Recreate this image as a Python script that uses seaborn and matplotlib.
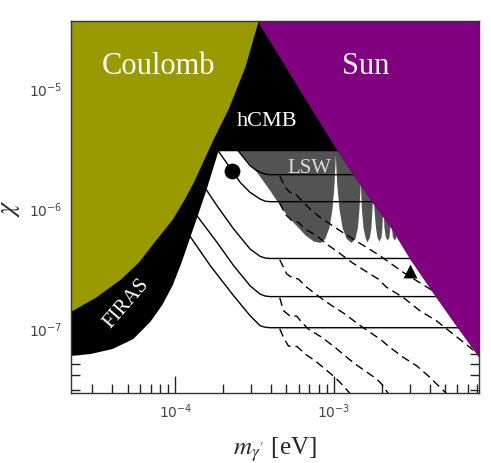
import numpy as np
import pandas as pd
import seaborn as sns
import matplotlib.pyplot as plt
from matplotlib.ticker import NullFormatter

# axis range (eV, kinetic mixing chi)
x_range = [2.2e-5, 8.2e-3]
y_range = [2.85e-8, 3.63e-5]

# Coulomb bound (olive): boundary
coul_m = [3.35e-4, 2.75e-4, 2.15e-4, 1.73e-4, 1.30e-4, 1.139e-4, 9.57e-5, 7.59e-5, 5.85e-5, 4.51e-5, 3.14e-5, 2.0e-5]
coul_chi = [3.8e-5, 1.53e-5, 6.72e-6, 3.77e-6, 1.65e-6, 1.19e-6, 8.09e-7, 5.51e-7, 3.54e-7, 2.55e-7, 1.80e-7, 1.28e-7]

# FIRAS + hCMB (black): lower boundary
black_m = [2.0e-5, 2.92e-5, 4.02e-5, 5.44e-5, 6.96e-5, 8.28e-5, 9.64e-5, 1.099e-4, 1.252e-4, 1.385e-4, 1.567e-4, 1.87e-4, 1e-2]
black_chi = [5.75e-8, 6.03e-8, 6.64e-8, 8.05e-8, 1.12e-7, 1.55e-7, 2.27e-7, 3.55e-7, 5.87e-7, 8.63e-7, 1.40e-6, 2.98e-6, 2.98e-6]

# Sun bound (purple): left boundary
sun_m = [3.23e-4, 9.44e-4, 1.315e-3, 1.726e-3, 2.31e-3, 3.01e-3, 4.43e-3, 6.03e-3, 8.17e-3, 9.57e-3]
sun_chi = [3.8e-5, 3.77e-6, 1.90e-6, 1.13e-6, 6.68e-7, 3.75e-7, 1.77e-7, 9.94e-8, 5.69e-8, 4.19e-8]

# LSW exclusion (grey), oscillating lower edge
lsw_top = 3.1e-6
lsw_m = [2.50e-4, 2.75e-4, 3.26e-4, 3.96e-4, 4.57e-4, 5.16e-4, 5.83e-4, 6.57e-4, 7.41e-4, 8.17e-4,
         8.77e-4, 9.30e-4, 9.71e-4, 1.00e-3, 1.019e-3, 1.040e-3, 1.075e-3, 1.123e-3, 1.19e-3, 1.28e-3,
         1.356e-3, 1.406e-3, 1.436e-3, 1.463e-3, 1.489e-3, 1.522e-3, 1.567e-3, 1.614e-3, 1.672e-3, 1.709e-3,
         1.734e-3, 1.759e-3, 1.785e-3, 1.824e-3, 1.864e-3, 1.919e-3, 1.976e-3, 2.004e-3, 2.033e-3, 2.063e-3,
         2.107e-3, 2.168e-3, 2.218e-3, 2.25e-3, 2.27e-3, 2.30e-3, 2.333e-3, 2.40e-3, 2.455e-3, 2.486e-3,
         2.528e-3, 2.60e-3, 1e-2]
lsw_chi = [2.98e-6, 2.57e-6, 1.99e-6, 1.39e-6, 1.045e-6, 8.36e-7, 7.08e-7, 5.95e-7, 5.30e-7, 5.15e-7,
           5.61e-7, 6.94e-7, 9.81e-7, 1.59e-6, 2.77e-6, 1.59e-6, 9.81e-7, 6.94e-7, 5.61e-7, 5.15e-7,
           5.61e-7, 6.94e-7, 9.81e-7, 1.65e-6, 9.81e-7, 6.94e-7, 5.73e-7, 5.20e-7, 5.73e-7, 6.94e-7,
           9.81e-7, 1.44e-6, 9.81e-7, 6.94e-7, 5.73e-7, 5.30e-7, 5.73e-7, 6.94e-7, 1.08e-6, 6.94e-7,
           5.73e-7, 5.40e-7, 5.73e-7, 6.94e-7, 8.91e-7, 6.94e-7, 5.73e-7, 5.40e-7, 5.73e-7, 7.79e-7,
           5.73e-7, 5.40e-7, 5.40e-7]

# solid sensitivity curves
l1_m = [2.33e-4, 2.50e-4, 2.96e-4, 3.18e-4, 3.42e-4, 3.68e-4, 3.96e-4, 1e-2]
l1_chi = [3.34e-6, 2.98e-6, 2.26e-6, 2.10e-6, 1.99e-6, 1.92e-6, 1.90e-6, 1.90e-6]
l2_m = [1.75e-4, 1.87e-4, 2.28e-4, 2.56e-4, 2.96e-4, 3.42e-4, 3.68e-4, 3.96e-4, 1e-2]
l2_chi = [3.39e-6, 2.98e-6, 2.05e-6, 1.64e-6, 1.35e-6, 1.19e-6, 1.14e-6, 1.13e-6, 1.13e-6]
l3_m = [1.45e-4, 1.58e-4, 1.83e-4, 2.33e-4, 2.96e-4, 3.42e-4, 3.68e-4, 3.96e-4, 1e-2]
l3_chi = [1.66e-6, 1.40e-6, 1.045e-6, 6.68e-7, 4.54e-7, 3.95e-7, 3.82e-7, 3.79e-7, 3.79e-7]
l4_m = [1.25e-4, 1.368e-4, 1.83e-4, 2.33e-4, 2.96e-4, 3.42e-4, 3.68e-4, 3.96e-4, 1e-2]
l4_chi = [1.01e-6, 8.63e-7, 5.17e-7, 3.30e-7, 2.24e-7, 1.91e-7, 1.84e-7, 1.82e-7, 1.82e-7]
l5_m = [1.12e-4, 1.23e-4, 1.66e-4, 2.33e-4, 2.96e-4, 3.42e-4, 3.68e-4, 3.96e-4, 1e-2]
l5_chi = [7.03e-7, 5.87e-7, 3.30e-7, 1.85e-7, 1.26e-7, 1.04e-7, 1.01e-7, 1.0e-7, 1.0e-7]

# dashed curves
d0_m = [4.55e-4, 4.92e-4, 5.29e-4, 5.69e-4, 6.11e-4, 7.24e-4, 8.17e-4, 9.44e-4, 1.091e-3, 1.422e-3, 1.946e-3, 2.73e-3, 4.02e-3, 4.76e-3, 6.20e-3]
d0_chi = [1.86e-6, 1.49e-6, 1.35e-6, 1.33e-6, 1.19e-6, 9.49e-7, 8.36e-7, 7.35e-7, 6.46e-7, 5.17e-7, 4.00e-7, 2.90e-7, 2.11e-7, 1.79e-7, 1.38e-7]
d1_m = [4.55e-4, 4.92e-4, 5.42e-4, 5.96e-4, 6.57e-4, 7.78e-4, 8.99e-4, 1.064e-3, 1.292e-3, 1.567e-3, 1.90e-3, 2.14e-3, 2.73e-3, 3.47e-3, 4.43e-3, 5.63e-3, 7.17e-3, 9.0e-3]
d1_chi = [1.10e-6, 8.91e-7, 7.83e-7, 7.60e-7, 6.68e-7, 5.87e-7, 5.00e-7, 4.27e-7, 3.52e-7, 2.99e-7, 2.55e-7, 2.18e-7, 1.79e-7, 1.39e-7, 1.14e-7, 8.86e-8, 6.86e-8, 5.3e-8]
d2_m = [4.55e-4, 5.04e-4, 5.42e-4, 5.96e-4, 6.73e-4, 8.17e-4, 9.68e-4, 1.173e-3, 1.422e-3, 1.684e-3, 1.946e-3, 2.25e-3, 2.73e-3, 3.31e-3, 4.02e-3, 4.32e-3, 5.3e-3]
d2_chi = [3.70e-7, 2.81e-7, 2.63e-7, 2.55e-7, 2.18e-7, 1.79e-7, 1.53e-7, 1.30e-7, 1.07e-7, 9.16e-8, 8.05e-8, 6.86e-8, 5.66e-8, 4.82e-8, 3.85e-8, 3.50e-8, 2.7e-8]
d3_m = [4.55e-4, 4.80e-4, 5.29e-4, 5.83e-4, 6.26e-4, 6.89e-4, 8.37e-4, 1.014e-3, 1.173e-3, 1.356e-3, 1.567e-3, 1.856e-3, 1.995e-3, 2.25e-3]
d3_chi = [1.78e-7, 1.39e-7, 1.25e-7, 1.25e-7, 1.11e-7, 9.75e-8, 8.32e-8, 6.86e-8, 5.83e-8, 4.98e-8, 4.37e-8, 3.73e-8, 3.39e-8, 2.7e-8]
d4_m = [4.55e-4, 4.80e-4, 5.16e-4, 5.85e-4, 6.57e-4, 7.60e-4, 8.77e-4, 1.014e-3, 1.143e-3, 1.33e-3]
d4_chi = [9.8e-8, 8.32e-8, 7.03e-8, 6.97e-8, 6.03e-8, 5.30e-8, 4.52e-8, 3.85e-8, 3.28e-8, 2.6e-8]

# benchmark points
dot_m, dot_chi = [2.28e-4], [2.05e-6]
tri_m, tri_chi = [3.0e-3], [2.99e-7]

OLIVE = "#999900"
PURPLE = "#800080"
GREY = "#535353"

sns.set_style("ticks")
plt.rcParams['font.family'] = ['DejaVu Sans']
serif = ['Liberation Serif', 'DejaVu Serif']

fig = plt.figure(figsize=(4.91, 4.64), dpi=100)
ax = fig.add_axes([0.1446, 0.1509, 0.831, 0.801])
ax.set_xscale('log')
ax.set_yscale('log')

# grey LSW region below everything else
ax.fill_between(lsw_m, lsw_chi, lsw_top, color=GREY, lw=0, zorder=1.0)

solid = [(l1_m, l1_chi), (l2_m, l2_chi), (l3_m, l3_chi), (l4_m, l4_chi), (l5_m, l5_chi)]
for m, c in solid:
    sns.lineplot(x=m, y=c, ax=ax, color='black', lw=1.0, sort=False, estimator=None, zorder=1.2)

dashed = [(d0_m, d0_chi), (d1_m, d1_chi), (d2_m, d2_chi), (d3_m, d3_chi), (d4_m, d4_chi)]
for m, c in dashed:
    sns.lineplot(x=m, y=c, ax=ax, color='black', lw=1.0, sort=False, estimator=None,
                 linestyle=(0, (6, 3.5)), zorder=1.2)

# excluded regions on top of the curves
ax.fill_between(black_m, black_chi, 1e-3, color='black', lw=0, zorder=1.5)
ax.fill_betweenx(coul_chi, 1e-6, coul_m, color=OLIVE, lw=0, zorder=1.6)
ax.fill_betweenx(sun_chi, sun_m, 1.0, color=PURPLE, lw=0, zorder=1.7)

sns.scatterplot(x=dot_m, y=dot_chi, ax=ax, color='black', s=130, marker='o', linewidth=0, zorder=3)
sns.scatterplot(x=tri_m, y=tri_chi, ax=ax, color='black', s=100, marker='^', linewidth=0, zorder=3)

ax.text(0.2145, 0.861, "Coulomb", transform=ax.transAxes, ha='center', va='baseline',
        color='white', fontsize=22, family=serif, zorder=3)
ax.text(0.722, 0.861, "Sun", transform=ax.transAxes, ha='center', va='baseline',
        color='white', fontsize=22, family=serif, zorder=3)
ax.text(0.480, 0.721, "hCMB", transform=ax.transAxes, ha='center', va='baseline',
        color='white', fontsize=16, family=serif, zorder=3)
ax.text(0.584, 0.595, "LSW", transform=ax.transAxes, ha='center', va='baseline',
        color='#dcdcdc', fontsize=15, family=serif, zorder=3)
ax.text(0.136, 0.242, "FIRAS", transform=ax.transAxes, ha='center', va='center',
        color='white', fontsize=15, family=serif, rotation=49, rotation_mode='anchor', zorder=3)

ax.set_xlim(x_range)
ax.set_ylim(y_range)

ax.set_xlabel(r'$m_{\gamma^\prime}$ [eV]', fontsize=18, family=serif, math_fontfamily='stix')
ax.set_ylabel(r'$\chi$', fontsize=19, family=serif, math_fontfamily='stix', labelpad=5)
ax.xaxis.set_label_coords(0.5, -0.112)

ax.tick_params(which='both', direction='in', top=True, right=True, color='#222222',
               labelcolor='#444444', labelsize=10, width=1.0)
ax.tick_params(which='major', length=12.5, pad=6)
ax.tick_params(which='minor', length=6.5)
ax.xaxis.set_minor_formatter(NullFormatter())
ax.yaxis.set_minor_formatter(NullFormatter())
for s in ax.spines.values():
    s.set_color('#333333')
    s.set_linewidth(1.0)
    s.set_zorder(2.6)

fig.savefig("out.png", dpi=100)
